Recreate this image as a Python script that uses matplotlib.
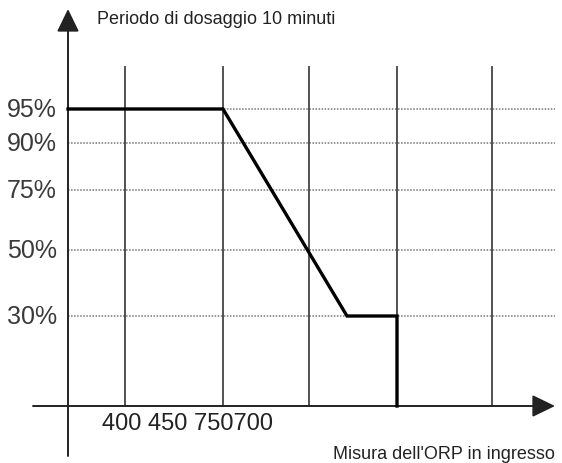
import numpy as np
import matplotlib
matplotlib.use("Agg")
import matplotlib.pyplot as plt

# ---- data ----
y_levels = [30, 50, 75, 90, 95]
y_labels = ["30%", "50%", "75%", "90%", "95%"]
grid_orp = [57, 155, 241, 329, 424]          # ORP grid positions (arbitrary units)
curve_orp = [0, 155, 279, 329, 329]          # dosing curve ORP
curve_pct = [95, 95, 30, 30, 0]              # dosing curve percentage
x_text = "400 450 750700"
title_text = "Periodo di dosaggio 10 minuti"
xlabel_text = "Misura dell'ORP in ingresso"

plt.rcParams['font.family'] = ['Liberation Sans', 'DejaVu Sans']

# non-linear visual scale for percentage axis
pct_pts = np.array([-100, 0, 30, 50, 75, 90, 95, 300])
pos_pts = np.array([-300, 0, 90, 156, 216, 263, 297, 502])
def fwd(v):
    return np.interp(v, pct_pts, pos_pts)
def inv(p):
    return np.interp(p, pos_pts, pct_pts)

W, H = 562, 464
fig = plt.figure(figsize=(W/100, H/100), dpi=100)
ax = fig.add_axes([33/W, (H-457)/H, 522/W, 447/H])
ax.set_yscale('function', functions=(fwd, inv))
ax.set_xlim(-35, 487)
ax.set_ylim(inv(-50), inv(397))
for s in ax.spines.values():
    s.set_visible(False)
ax.set_xticks([])
ax.set_yticks([])

x0 = 35/522
y0 = 50/447

# dotted horizontal lines
for lv in y_levels:
    ax.axhline(lv, xmin=x0, xmax=1.0, color='#777777', lw=1.1,
               linestyle=(0, (1, 1)), zorder=1)

# vertical grid lines
for gx in grid_orp:
    ax.axvline(gx, ymin=y0, ymax=(457-68)/447, color='#444444', lw=1.3, zorder=1)

# axes with arrows
arrow = dict(arrowstyle='-|>,head_length=1.4,head_width=0.68', lw=1.4,
             color='#222222', shrinkA=0, shrinkB=0)
ax.annotate('', xy=(x0, 1.0), xytext=(x0, 0.0), xycoords='axes fraction',
            textcoords='axes fraction', arrowprops=arrow, annotation_clip=False)
ax.annotate('', xy=(1.0, y0), xytext=(0.0, y0), xycoords='axes fraction',
            textcoords='axes fraction', arrowprops=arrow, annotation_clip=False)

# dosing curve
ax.plot(curve_orp, curve_pct, color='black', lw=2.4, solid_joinstyle='miter',
        zorder=3, clip_on=False)

# y labels
for lv, lb in zip(y_levels, y_labels):
    ax.text(-11, lv, lb, ha='right', va='center', fontsize=18, color='#3a3a3a')

# texts
fig.text(97/W, 1-19/H, title_text, ha='left', va='center', fontsize=13, color='#222222')
fig.text(188/W, 1-424/H, x_text, ha='center', va='center', fontsize=17, color='#222222')
fig.text(555/W, 1-455/H, xlabel_text, ha='right', va='center', fontsize=13, color='#222222')

fig.savefig('out.png', dpi=100, facecolor='white')
